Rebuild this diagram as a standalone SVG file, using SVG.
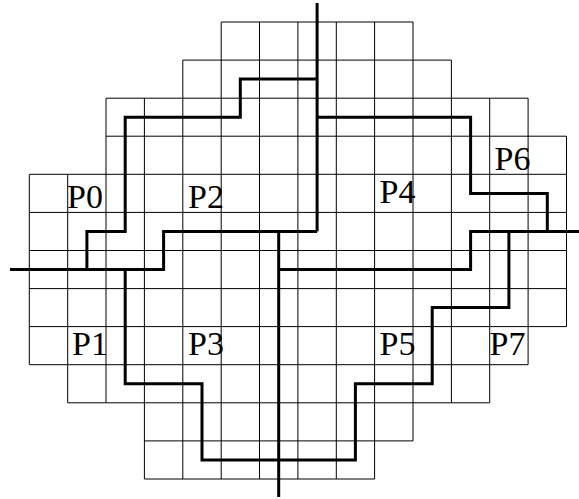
<svg xmlns="http://www.w3.org/2000/svg" width="579" height="499" viewBox="0 0 579 499">
<style>
.g{stroke:#000;stroke-width:1;fill:none}
.t{stroke:#000;stroke-width:3;fill:none;stroke-linejoin:miter;stroke-linecap:butt}
.l{font-family:"Liberation Serif","Times New Roman",serif;font-size:34px;fill:#000}
</style>
<rect width="579" height="499" fill="#fff"/>
<g id="grid" class="g">
<path d="M221.2,22H413 M182.8,60.1H451.4 M106,98.2H528.1 M106,136.2H566.5 M29.3,174.3H566.5 M29.3,212.4H566.5 M29.3,250.5H566.5 M29.3,288.6H566.5 M29.3,326.6H566.5 M29.3,364.7H528.1 M67.7,402.8H489.7 M144.4,440.9H413 M144.4,479H374.6"/>
<path d="M29.3,174.3V364.7 M67.7,174.3V402.8 M106,98.2V402.8 M144.4,98.2V479 M182.8,60.1V479 M221.2,22V479 M259.5,22V479 M297.9,22V479 M336.3,22V479 M374.6,22V479 M413,22V440.9 M451.4,60.1V402.8 M489.7,98.2V402.8 M528.1,98.2V364.7 M566.5,136.2V326.6"/>
</g>
<g id="connectors" class="t">
<path id="cut-top" d="M317.1,3V231.4"/>
<path id="cut-bottom" d="M278.7,231.4V497"/>
<path id="cut-left" d="M317.1,231.4H163.6V269.5H10"/>
<path id="cut-right" d="M278.7,269.5H470.6V231.4H579"/>
<path id="b-p0p2" d="M317.1,79.1H240.3V117.2H125.2V231.4H86.9V269.5"/>
<path id="b-p1p3" d="M125.2,269.5V383.8H202V459.9H355.4V383.8H432.2V307.6H508.9V231.4"/>
<path id="b-p4p6" d="M317.1,117.2H470.6V193.4H547.3V231.4"/>
</g>
<g id="P0"><text class="l" x="67" y="208">P0</text></g>
<g id="P2"><text class="l" x="188" y="208">P2</text></g>
<g id="P4"><text class="l" x="379.5" y="203">P4</text></g>
<g id="P6"><text class="l" x="494.5" y="170">P6</text></g>
<g id="P1"><text class="l" x="72" y="355">P1</text></g>
<g id="P3"><text class="l" x="188" y="355">P3</text></g>
<g id="P5"><text class="l" x="379.5" y="355">P5</text></g>
<g id="P7"><text class="l" x="489.5" y="355">P7</text></g>
</svg>
